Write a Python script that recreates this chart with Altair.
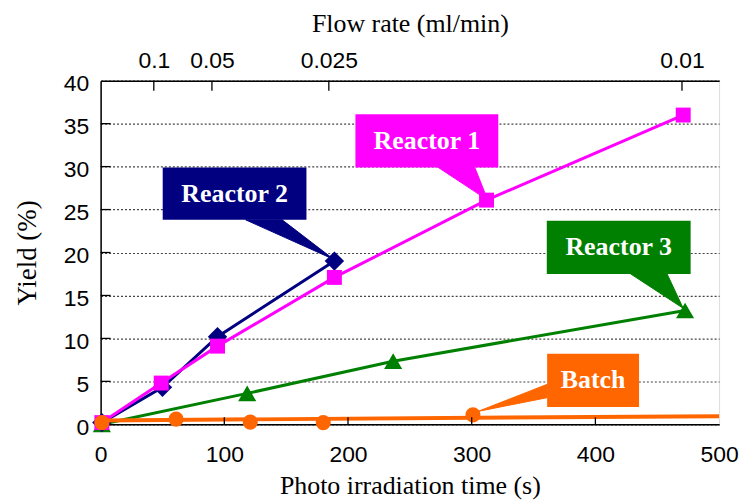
import altair as alt
import pandas as pd

# ---------------- data ----------------
series_names = ["Reactor 1", "Reactor 2", "Reactor 3", "Batch"]
series_colors = ["#FF00FF", "#000080", "#008000", "#FF6600"]
series_shapes = ["square", "diamond", "triangle-up", "circle"]

r1_x = [1, 49, 94.5, 189, 312, 471]
r1_y = [0.2, 4.8, 9.1, 17.1, 26.1, 36.0]
r2_x = [1, 50, 94.5, 189]
r2_y = [0.2, 4.3, 10.2, 19.0]
r3_x = [1, 118.5, 236.5, 472.5]
r3_y = [0.0, 3.6, 7.35, 13.25]
batch_x = [1, 61, 121, 180, 301]
batch_y = [0.2, 0.6, 0.25, 0.2, 1.1]
batch_trend_x = [0, 500]
batch_trend_y = [0.45, 0.95]

x_tick_values = [0, 100, 200, 300, 400, 500]
x_inner_ticks = [100, 200, 300, 400]
y_tick_values = [0, 5, 10, 15, 20, 25, 30, 35, 40]
y_inner_ticks = [5, 10, 15, 20, 25, 30, 35]
flow_tick_pos = [43, 90, 184.5, 470]
flow_tick_labels = ["0.1", "0.05", "0.025", "0.01"]

# callouts (data coordinates)
call_names = ["Reactor 1", "Reactor 2", "Reactor 3", "Batch"]
call_x1 = [206, 50.2, 360.7, 361]
call_x2 = [321.5, 166.4, 477, 435.3]
call_y1 = [29.9, 23.8, 17.5, 2.0]
call_y2 = [36.1, 29.9, 23.7, 8.2]
ptr_a = [(273, 29.9), (117.3, 23.8), (428.6, 17.5), (361, 4.65)]
ptr_b = [(302.5, 29.9), (146.8, 23.8), (458, 17.5), (361, 3.1)]
ptr_tip = [(313, 26.1), (188.5, 19.2), (471, 13.5), (305, 1.5)]

W, H = 621, 345
SERIF = "Liberation Serif"
SANS = "Liberation Sans"
LBL = 23

xs = alt.Scale(domain=[0, 500], nice=False, zero=False)
ys = alt.Scale(domain=[0, 40], nice=False)
col = alt.Scale(domain=series_names, range=series_colors)
shp = alt.Scale(domain=series_names, range=series_shapes)

def sdf(name, xv, yv):
    return pd.DataFrame({"series": name, "x": xv, "y": yv, "i": list(range(len(xv)))})

df_r1 = sdf("Reactor 1", r1_x, r1_y)
df_r2 = sdf("Reactor 2", r2_x, r2_y)
df_r3 = sdf("Reactor 3", r3_x, r3_y)
df_b = sdf("Batch", batch_x, batch_y)
df_bt = sdf("Batch", batch_trend_x, batch_trend_y)

def line_layer(df, width=3):
    return alt.Chart(df).mark_line(strokeWidth=width).encode(
        x=alt.X("x:Q", scale=xs, axis=None),
        y=alt.Y("y:Q", scale=ys, axis=None),
        color=alt.Color("series:N", scale=col, legend=None),
        order="i:Q",
    )

def point_layer(df, size):
    return alt.Chart(df).mark_point(filled=True, opacity=1, size=size).encode(
        x=alt.X("x:Q", scale=xs, axis=None),
        y=alt.Y("y:Q", scale=ys, axis=None),
        color=alt.Color("series:N", scale=col, legend=None),
        shape=alt.Shape("series:N", scale=shp, legend=None),
    )

# base layer carrying bottom x axis
base = alt.Chart(pd.DataFrame({"x": x_tick_values})).mark_point(opacity=0).encode(
    x=alt.X("x:Q", scale=xs, axis=alt.Axis(
        orient="bottom", values=x_tick_values, ticks=False, tickSize=0, grid=False,
        domainColor="black", domainWidth=1.5, labelFont=SANS, labelFontSize=LBL,
        labelColor="black", labelPadding=19, labelFlush=False,
        title="Photo irradiation time (s)", titleFont=SERIF, titleFontSize=26,
        titleFontWeight="normal", titleColor="black", titleY=61, titleBaseline="middle")),
    y=alt.value(H),
)
# layer carrying the left y axis
base_y = alt.Chart(pd.DataFrame({"y": y_tick_values})).mark_point(opacity=0).encode(
    y=alt.Y("y:Q", scale=ys, axis=alt.Axis(
        orient="left", values=y_tick_values, ticks=False, tickSize=0, grid=True,
        gridColor="#444444", gridDash=[2, 2], gridWidth=1.2,
        domainColor="black", domainWidth=1.5, labelFont=SANS, labelFontSize=LBL,
        labelColor="black", labelPadding=12, labelOffset=3,
        title="Yield (%)", titleFont=SERIF, titleFontSize=27, titleFontWeight="normal",
        titleColor="black", titleX=-73, titleY=H / 2, titleAngle=-90,
        titleAlign="center", titleBaseline="middle")),
    x=alt.value(0),
)

top = alt.Chart(pd.DataFrame({"x": flow_tick_pos})).mark_rule(color="black", strokeWidth=1.3).encode(
    x=alt.X("x:Q", scale=xs, axis=alt.Axis(
        orient="top", values=flow_tick_pos, ticks=False, tickSize=0, grid=False,
        domainColor="black", domainWidth=1.5, labelFont=SANS, labelFontSize=LBL,
        labelColor="black", labelPadding=8,
        labelExpr=" : ".join(f"datum.value == {p} ? '{l}'" for p, l in zip(flow_tick_pos, flow_tick_labels)) + " : ''",
        title="Flow rate (ml/min)", titleFont=SERIF, titleFontSize=26,
        titleFontWeight="normal", titleColor="black", titleY=-57, titleBaseline="middle")),
    y=alt.value(0), y2=alt.value(10),
)

bot_ticks = alt.Chart(pd.DataFrame({"x": x_inner_ticks})).mark_rule(color="black", strokeWidth=1.3).encode(
    x=alt.X("x:Q", scale=xs, axis=None), y=alt.value(H), y2=alt.value(H - 7))
left_ticks = alt.Chart(pd.DataFrame({"y": y_inner_ticks})).mark_rule(color="black", strokeWidth=1.3).encode(
    y=alt.Y("y:Q", scale=ys, axis=None), x=alt.value(0), x2=alt.value(10))

# callouts
boxes = pd.DataFrame({"name": call_names, "x1": call_x1, "x2": call_x2, "y1": call_y1, "y2": call_y2})
boxes["tx"] = (boxes.x1 + boxes.x2) / 2
boxes["ty"] = (boxes.y1 + boxes.y2) / 2
ptr_rows = []
for n, a, b, t in zip(call_names, ptr_a, ptr_b, ptr_tip):
    for k, (px, py) in enumerate([a, b, t]):
        ptr_rows.append({"name": n, "i": k, "x": px, "y": py})
ptrs = pd.DataFrame(ptr_rows)

ptr_layer = alt.Chart(ptrs).mark_line(interpolate="linear-closed", strokeWidth=1).encode(
    x=alt.X("x:Q", scale=xs, axis=None),
    y=alt.Y("y:Q", scale=ys, axis=None),
    fill=alt.Fill("name:N", scale=col, legend=None),
    stroke=alt.Stroke("name:N", scale=col, legend=None),
    detail="name:N",
    order="i:Q",
)
box_layer = alt.Chart(boxes).mark_rect().encode(
    x=alt.X("x1:Q", scale=xs, axis=None), x2="x2:Q",
    y=alt.Y("y1:Q", scale=ys, axis=None), y2="y2:Q",
    color=alt.Color("name:N", scale=col, legend=None),
)
txt_layer = alt.Chart(boxes).mark_text(font=SERIF, fontSize=26, fontWeight="bold", color="white",
                                       align="center", baseline="middle").encode(
    x=alt.X("tx:Q", scale=xs, axis=None), y=alt.Y("ty:Q", scale=ys, axis=None), text="name:N")

chart = alt.layer(
    base, base_y, top,
    line_layer(df_r3), point_layer(df_r3, 330),
    line_layer(df_r2), point_layer(df_r2, 380),
    line_layer(df_r1), point_layer(df_r1, 225),
    line_layer(df_bt, 4), point_layer(df_b, 230),
    bot_ticks, left_ticks,
    ptr_layer, box_layer, txt_layer,
).resolve_axis(x="independent", y="independent").properties(
    width=W, height=H,
    autosize=alt.AutoSizeParams(type="none"),
    padding={"left": 93, "top": 72, "right": 20, "bottom": 76},
).configure_view(stroke="black", strokeWidth=1.5).configure(background="white")

chart.save("out.html", embed_options={"renderer": "svg", "actions": False})
